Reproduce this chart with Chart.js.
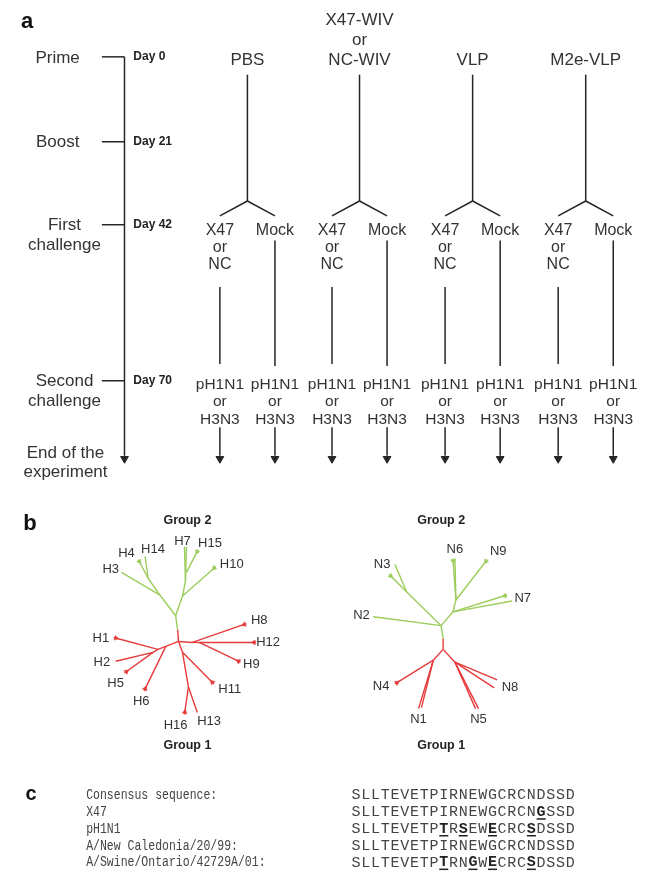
<!DOCTYPE html>
<html>
<head>
<meta charset="utf-8">
<script src="https://cdn.jsdelivr.net/npm/chart.js@4.4.1/dist/chart.umd.min.js"></script>
<style>
  body { margin: 0; background: #fff; }
  canvas { display: block; }
</style>
</head>
<body>
<canvas id="fig" width="663" height="880"></canvas>
<script>
// ---- panel a: immunisation schedule ----
var stageLabels = [['Prime'], ['Boost'], ['First', 'challenge'], ['Second', 'challenge']];
var dayLabels = ['Day 0', 'Day 21', 'Day 42', 'Day 70'];
var endLabel = ['End of the', 'experiment'];
var vaccineGroups = [['PBS'], ['X47-WIV', 'or', 'NC-WIV'], ['VLP'], ['M2e-VLP']];
var firstChallenge = [['X47', 'or', 'NC'], ['Mock']];
var secondChallenge = ['pH1N1', 'or', 'H3N3'];

// ---- panel b: HA / NA trees (branch ends in figure units) ----
var haGroup2 = [
    [[175, 632], [173, 618]], [[173, 618], [157, 597]], [[157, 597], [118, 574]],
    [[157, 597], [145, 580]], [[145, 580], [135, 561]], [[145, 580], [142, 558]],
    [[173, 618], [180, 598]], [[180, 598], [214, 568]], [[180, 598], [183, 583]],
    [[183, 583], [182, 548]], [[183, 583], [184, 548]], [[184, 574], [196, 551]]
];
var haGroup1 = [
    [[175, 632], [176, 644]], [[176, 644], [163, 649]], [[163, 649], [155, 652]],
    [[155, 652], [110, 640]], [[155, 652], [150, 655]], [[150, 655], [112, 664]],
    [[150, 655], [121, 676]], [[163, 649], [141, 694]], [[176, 644], [190, 645]],
    [[190, 645], [245, 626]], [[190, 645], [197, 645]], [[197, 645], [255, 645]],
    [[197, 645], [239, 665]], [[176, 644], [180, 655]], [[180, 655], [212, 687]],
    [[180, 655], [186, 690]], [[186, 690], [182, 718]], [[186, 690], [195, 716]]
];
var haNames = ['H1', 'H2', 'H3', 'H4', 'H5', 'H6', 'H7', 'H8', 'H9', 'H10', 'H11', 'H12', 'H13', 'H14', 'H15', 'H16'];
var haTips = [[97, 641], [98, 665], [107, 571], [123, 555], [112, 687], [138, 705], [180, 543], [258, 623],
    [250, 667], [230, 566], [228, 693], [267, 645], [207, 725], [150, 551], [208, 545], [173, 729]];

var naGroup2 = [
    [[445, 641], [443, 628]], [[443, 628], [374, 619]], [[443, 628], [408, 594]],
    [[408, 594], [396, 566]], [[408, 594], [390, 576]], [[443, 628], [455, 614]],
    [[455, 614], [510, 597]], [[455, 614], [515, 603]], [[455, 614], [458, 602]],
    [[458, 602], [455, 560]], [[458, 602], [457, 560]], [[458, 602], [490, 561]]
];
var naGroup1 = [
    [[445, 641], [445, 652]], [[445, 652], [435, 663]], [[435, 663], [396, 687]],
    [[435, 663], [420, 712]], [[435, 663], [423, 711]], [[445, 652], [457, 665]],
    [[457, 665], [500, 683]], [[457, 665], [497, 691]], [[457, 665], [478, 712]],
    [[457, 665], [481, 712]]
];
var naNames = ['N1', 'N2', 'N3', 'N4', 'N5', 'N6', 'N7', 'N8', 'N9'];
var naTips = [[420, 723], [362, 618], [383, 566], [382, 690], [481, 723], [457, 551], [526, 600], [513, 691], [501, 553]];

// collapsed clades drawn as small wedges at the branch tips
var greenWedges = [haGroup2[4], haGroup2[7], haGroup2[11], naGroup2[4], naGroup2[6], naGroup2[9], naGroup2[11]];
var redWedges = [haGroup1[3], haGroup1[6], haGroup1[7], haGroup1[9], haGroup1[11], haGroup1[12],
    haGroup1[14], haGroup1[16], naGroup1[2]];

// ---- panel c: M2e sequences ----
var strainNames = ['Consensus sequence:', 'X47', 'pH1N1', 'A/New Caledonia/20/99:', 'A/Swine/Ontario/42729A/01:'];
var m2eSequences = [
    'SLLTEVETPIRNEWGCRCNDSSD',
    'SLLTEVETPIRNEWGCRCNGSSD',
    'SLLTEVETPTRSEWECRCSDSSD',
    'SLLTEVETPIRNEWGCRCNDSSD',
    'SLLTEVETPTRNGWECRCSDSSD'
];

// layout
var stageY = [52, 138, 222, 380];
var stageX = [53, 53, 60, 60];
var lineX = 121;
var groupX = [246, 360, 475, 590];
var armOffset = [-28, 28];
var arrowY = 459;

var INK = '#262626';
var TXT = '#333333';
var GREEN = '#9ccc5c';
var RED = '#e63b3b';

var datasets = [];
function addLine(pts, color, width) {
    datasets.push({
        data: pts.map(function(p) { return { x: p[0], y: p[1] }; }),
        showLine: true, borderColor: color, borderWidth: width,
        pointRadius: 0, fill: false, clip: false
    });
}

function addWedges(segs, color) {
    datasets.push({
        data: segs.map(function(s) {
            var dx = s[1][0] - s[0][0], dy = s[1][1] - s[0][1];
            var len = Math.sqrt(dx * dx + dy * dy);
            return { x: s[1][0] - dx / len * 2.5, y: s[1][1] - dy / len * 2.5 };
        }),
        showLine: false, pointStyle: 'triangle', pointRadius: 2.8,
        rotation: segs.map(function(s) {
            return Math.atan2(s[0][0] - s[1][0], s[1][1] - s[0][1]) * 180 / Math.PI;
        }),
        backgroundColor: color, borderColor: color, borderWidth: 0.5, clip: false
    });
}

// timeline
addLine([[lineX, stageY[0]], [lineX, arrowY - 3]], INK, 1.5);
stageY.forEach(function(y) { addLine([[98, y], [lineX, y]], INK, 1.5); });

var arrowTips = [[lineX, arrowY]];
groupX.forEach(function(gx) {
    addLine([[gx, 70], [gx, 198]], INK, 1.5);
    armOffset.forEach(function(dx, k) {
        var ax = gx + dx;
        addLine([[gx, 198], [ax, 213]], INK, 1.5);
        if (k === 0) addLine([[ax, 285], [ax, 363]], INK, 1.5);
        else addLine([[ax, 238], [ax, 365]], INK, 1.5);
        addLine([[ax, 427], [ax, arrowY - 3]], INK, 1.5);
        arrowTips.push([ax, arrowY]);
    });
});

datasets.push({
    data: arrowTips.map(function(p) { return { x: p[0], y: p[1] }; }),
    showLine: false, pointStyle: 'triangle', rotation: 180, pointRadius: 4.5,
    backgroundColor: INK, borderColor: INK, borderWidth: 1, clip: false
});

haGroup2.concat(naGroup2).forEach(function(s) { addLine(s, GREEN, 1.4); });
haGroup1.concat(naGroup1).forEach(function(s) { addLine(s, RED, 1.4); });
addWedges(greenWedges, GREEN);
addWedges(redWedges, RED);

var textPlugin = {
    id: 'figureText',
    afterDatasetsDraw: function(chart) {
        var ctx = chart.ctx;
        var sx = chart.scales.x, sy = chart.scales.y;
        function put(str, x, y, font, align, color, maxW) {
            ctx.font = font;
            ctx.textAlign = align || 'center';
            ctx.textBaseline = 'middle';
            ctx.fillStyle = color || TXT;
            if (maxW) ctx.fillText(str, sx.getPixelForValue(x), sy.getPixelForValue(y), maxW);
            else ctx.fillText(str, sx.getPixelForValue(x), sy.getPixelForValue(y));
        }
        var SANS = '"Liberation Sans", Arial, sans-serif';
        ctx.save();

        // panel letters
        put('a', 22, 17, 'bold 22px ' + SANS, 'center', '#111');
        put('b', 25, 525, 'bold 22px ' + SANS, 'center', '#111');
        put('c', 26, 799, 'bold 20px ' + SANS, 'center', '#111');

        // stages and days
        stageLabels.forEach(function(lines, i) {
            lines.forEach(function(t, j) { put(t, stageX[i], stageY[i] + 1 + j * 20, '17px ' + SANS); });
            put(dayLabels[i], 130, stageY[i], 'bold 12px ' + SANS, 'left', '#222');
        });
        endLabel.forEach(function(t, j) { put(t, 61, 453 + j * 20, '17px ' + SANS); });

        // vaccine groups
        vaccineGroups.forEach(function(lines, i) {
            var y0 = 55 - (lines.length - 1) * 20;
            lines.forEach(function(t, j) { put(t, groupX[i], y0 + j * 20, '17px ' + SANS); });
            armOffset.forEach(function(dx, k) {
                var ax = groupX[i] + dx;
                firstChallenge[k].forEach(function(t, j) { put(t, ax, 228 + j * 17, '16px ' + SANS); });
                secondChallenge.forEach(function(t, j) { put(t, ax, 384 + j * 17.5, '15.5px ' + SANS); });
            });
        });

        // trees
        var groupLabelX = [185, 443];
        groupLabelX.forEach(function(gx) {
            put('Group 2', gx, 522, 'bold 12.5px ' + SANS, 'center', '#222');
            put('Group 1', gx, 749, 'bold 12.5px ' + SANS, 'center', '#222');
        });
        haNames.forEach(function(n, i) { put(n, haTips[i][0], haTips[i][1], '13px ' + SANS); });
        naNames.forEach(function(n, i) { put(n, naTips[i][0], naTips[i][1], '13px ' + SANS); });

        // sequences
        var MONO = '"Liberation Mono", "Courier New", monospace';
        var cons = m2eSequences[0];
        strainNames.forEach(function(name, r) {
            var y = 800 + r * 17;
            put(name, 82, y, '14px ' + MONO, 'left', '#444', name.length * 6.9);
            var seq = m2eSequences[r];
            for (var i = 0; i < seq.length; i++) {
                var cx = 356.5 + i * 9.9;
                var diff = seq[i] !== cons[i];
                put(seq[i], cx, y, (diff ? 'bold ' : '') + '15px ' + MONO, 'center', diff ? '#222' : '#444');
                if (diff) {
                    ctx.fillStyle = '#222';
                    ctx.fillRect(sx.getPixelForValue(cx - 4.5), sy.getPixelForValue(y + 6), 9, 1.5);
                }
            }
        });
        ctx.restore();
    }
};

new Chart(document.getElementById('fig'), {
    type: 'scatter',
    data: { datasets: datasets },
    options: {
        responsive: false,
        animation: false,
        layout: { padding: 0 },
        plugins: { legend: { display: false }, tooltip: { enabled: false } },
        scales: {
            x: { type: 'linear', min: 0, max: 663, display: false },
            y: { type: 'linear', min: 0, max: 880, reverse: true, display: false }
        }
    },
    plugins: [textPlugin]
});
</script>
</body>
</html>
